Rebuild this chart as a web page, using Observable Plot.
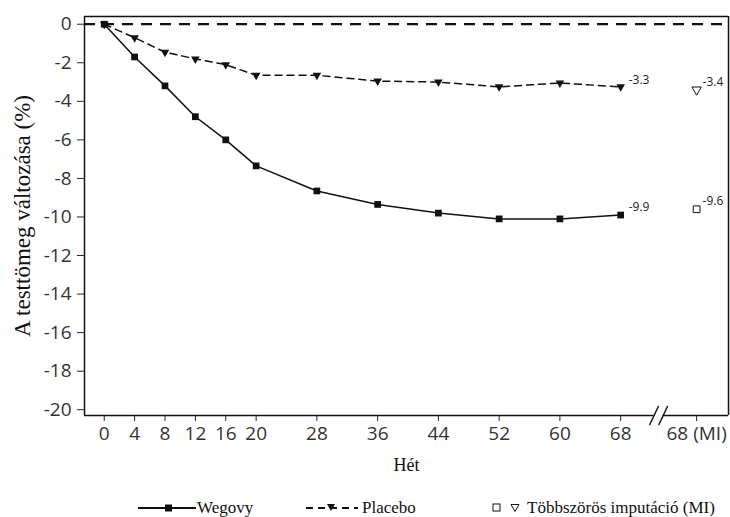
<!DOCTYPE html>
<html><head><meta charset="utf-8">
<script src="https://cdn.jsdelivr.net/npm/d3@7"></script>
<script src="https://cdn.jsdelivr.net/npm/@observablehq/plot@0.6"></script>
<style>
body{margin:0;background:#fff;width:730px;height:517px;overflow:hidden;}
#legend{position:relative;width:730px;height:32px;font-family:"Liberation Serif","Times New Roman",Times,"DejaVu Serif",serif;font-size:17px;color:#111;}
#legend .it{position:absolute;top:13px;display:flex;align-items:center;white-space:nowrap;}
</style></head>
<body><div id="chart"></div><div id="legend"></div>
<script>
const weeks = [0,4,8,12,16,20,28,36,44,52,60,68];
const wegovy = [0,-1.7,-3.2,-4.8,-6.0,-7.35,-8.65,-9.35,-9.8,-10.1,-10.1,-9.9];
const placebo = [0,-0.7,-1.45,-1.8,-2.1,-2.65,-2.65,-2.95,-3.0,-3.25,-3.05,-3.25];
const miSlot = 78;            // axis slot for "68 (MI)"
const miWegovy = -9.6;
const miPlacebo = -3.4;
const endLabels = [{s:"Wegovy", v:-9.9, t:"-9.9"}, {s:"Placebo", v:-3.3, t:"-3.3"}];
const miLabels = [{v:-9.6, t:"-9.6"}, {v:-3.4, t:"-3.4"}];
const xTicks = [0,4,8,12,16,20,28,36,44,52,60,68,78];
const xTickLabels = ["0","4","8","12","16","20","28","36","44","52","60","68","68 (MI)"];
const yTicks = [0,-2,-4,-6,-8,-10,-12,-14,-16,-18,-20];
const breakAt = 73;

const serif = "'Liberation Serif', 'Times New Roman', Times, 'DejaVu Serif', serif";
const sans = "'Open Sans', sans-serif";
const xDom = [-2.6, 82.2], yDom = [-20.3, 0.4];
const rowsW = weeks.map((w,i)=>({w, v:wegovy[i]}));
const rowsP = weeks.map((w,i)=>({w, v:placebo[i]}));
const xLab = xTicks.map((t,i)=>({t, s:xTickLabels[i]}));

const chart = Plot.plot({
  width:730, height:485,
  marginLeft:84, marginRight:2, marginTop:16, marginBottom:70,
  style:{fontFamily:sans, color:"#222", background:"#fff"},
  x:{domain:xDom},
  y:{domain:yDom},
  marks:[
    Plot.ruleY([0], {stroke:"#111", strokeWidth:2.2, strokeDasharray:"11,8"}),
    Plot.ruleY([yDom[1]], {stroke:"#111", strokeWidth:1.5}),
    Plot.ruleX([xDom[0]], {stroke:"#111", strokeWidth:1.5}),
    Plot.ruleX([xDom[1]], {stroke:"#111", strokeWidth:1.5}),
    Plot.ruleY([yDom[0]], {x1:xDom[0], x2:breakAt-0.6, stroke:"#111", strokeWidth:1.5}),
    Plot.ruleY([yDom[0]], {x1:breakAt+0.6, x2:xDom[1], stroke:"#111", strokeWidth:1.5}),
    Plot.link([breakAt-0.6, breakAt+0.6], {x1:d=>d-0.6, x2:d=>d+0.6, y1:yDom[0]-0.5, y2:yDom[0]+0.5, stroke:"#111", strokeWidth:1.3}),
    Plot.axisY({ticks:yTicks, tickFormat:()=>"", tickSize:7, label:null, stroke:"#222"}),
    Plot.axisX({ticks:xTicks, tickFormat:()=>"", tickSize:6, label:null, stroke:"#222"}),
    Plot.text(yTicks, {y:d=>d, text:d=>String(d), frameAnchor:"left", textAnchor:"end", dx:-13, fontFamily:sans, fontSize:19, fill:"#333"}),
    Plot.text(xLab, {x:"t", text:"s", frameAnchor:"bottom", lineAnchor:"top", dy:11, fontFamily:sans, fontSize:19, fill:"#333"}),
    Plot.text(["A testtömeg változása (%)"], {frameAnchor:"left", textAnchor:"middle", rotate:-90, dx:-62, fontFamily:serif, fontSize:23, fill:"#111"}),
    Plot.text(["Hét"], {frameAnchor:"bottom", textAnchor:"middle", dy:55, fontFamily:serif, fontSize:18, fill:"#111"}),
    Plot.line(rowsP, {x:"w", y:"v", stroke:"#111", strokeWidth:1.5, strokeDasharray:"7,5"}),
    Plot.line(rowsW, {x:"w", y:"v", stroke:"#111", strokeWidth:1.5}),
    Plot.dot(rowsP, {x:"w", y:"v", symbol:"triangle", rotate:180, r:3.2, fill:"#111", stroke:"none"}),
    Plot.dot(rowsW, {x:"w", y:"v", symbol:"square", r:3.8, fill:"#111", stroke:"none"}),
    Plot.dot([miWegovy], {x:miSlot, y:d=>d, symbol:"square", r:3.8, fill:"#fff", stroke:"#111", strokeWidth:1}),
    Plot.dot([miPlacebo], {x:miSlot, y:d=>d, symbol:"triangle", rotate:180, r:3.5, fill:"#fff", stroke:"#111", strokeWidth:1}),
    Plot.text(endLabels, {x:68, y:"v", text:"t", dx:8, dy:-8, textAnchor:"start", fontFamily:sans, fontSize:12, fill:"#222"}),
    Plot.text(miLabels, {x:miSlot, y:"v", text:"t", dx:6, dy:-8, textAnchor:"start", fontFamily:sans, fontSize:12, fill:"#222"})
  ]
});
document.getElementById("chart").appendChild(chart);

const lg = document.getElementById("legend");
lg.innerHTML = `
<div class="it" style="left:138px"><svg width="58" height="14"><line x1="0" y1="7" x2="58" y2="7" stroke="#111" stroke-width="2"/><rect x="27" y="3.5" width="7" height="7" fill="#111"/></svg><span style="margin-left:1px">Wegovy</span></div>
<div class="it" style="left:306px"><svg width="52" height="14"><line x1="0" y1="7" x2="52" y2="7" stroke="#111" stroke-width="2" stroke-dasharray="7,5"/><path d="M21,3 L29,3 L25,10 Z" fill="#111"/></svg><span style="margin-left:4px">Placebo</span></div>
<div class="it" style="left:491px"><svg width="32" height="14"><rect x="2" y="3" width="7" height="7" fill="none" stroke="#111" stroke-width="1"/><path d="M20,3.5 L28,3.5 L24,10.5 Z" fill="none" stroke="#111" stroke-width="1"/></svg><span style="margin-left:4px">Többszörös imputáció (MI)</span></div>`;
</script></body></html>
